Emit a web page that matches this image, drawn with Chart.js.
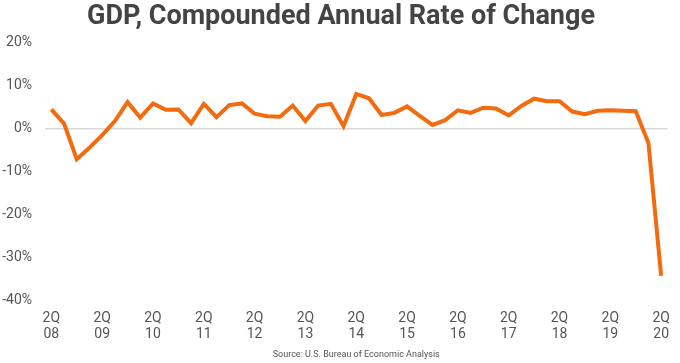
<!DOCTYPE html>
<html>
<head>
<meta charset="utf-8">
<script src="https://cdn.jsdelivr.net/npm/chart.js@4"></script>
<style>
  html, body { margin: 0; padding: 0; background: #fff; }
  #wrap { width: 680px; height: 363px; }
</style>
</head>
<body>
<div id="wrap"><canvas id="gdpChart"></canvas></div>
<script>
// quarters 2Q08 .. 2Q20
const quarters = [
    '2Q08', '3Q08', '4Q08',
    '1Q09', '2Q09', '3Q09', '4Q09',
    '1Q10', '2Q10', '3Q10', '4Q10',
    '1Q11', '2Q11', '3Q11', '4Q11',
    '1Q12', '2Q12', '3Q12', '4Q12',
    '1Q13', '2Q13', '3Q13', '4Q13',
    '1Q14', '2Q14', '3Q14', '4Q14',
    '1Q15', '2Q15', '3Q15', '4Q15',
    '1Q16', '2Q16', '3Q16', '4Q16',
    '1Q17', '2Q17', '3Q17', '4Q17',
    '1Q18', '2Q18', '3Q18', '4Q18',
    '1Q19', '2Q19', '3Q19', '4Q19',
    '1Q20', '2Q20'
];

// annual rate of change, %
const gdpRate = [
    4.4, 1.1, -7.2,
    -4.5, -1.6, 1.7, 6.1,
    2.5, 5.8, 4.3, 4.4,
    1.2, 5.7, 2.6, 5.4,
    5.8, 3.4, 2.8, 2.7,
    5.3, 1.7, 5.3, 5.7,
    0.5, 8.0, 7.0, 3.1,
    3.6, 5.1, 2.9, 0.8,
    1.9, 4.2, 3.6, 4.8,
    4.6, 3.0, 5.2, 6.9,
    6.3, 6.3, 3.9, 3.3,
    4.1, 4.2, 4.1, 4.0,
    -3.4, -34.3
];

const yTicks = [20, 10, 0, -10, -20, -30, -40];

new Chart(document.getElementById('gdpChart'), {
    type: 'line',
    data: {
        labels: quarters,
        datasets: [{
            label: 'GDP',
            data: gdpRate,
            borderColor: '#f26b0f',
            borderWidth: 4,
            pointRadius: 0,
            tension: 0,
            fill: false
        }]
    },
    options: {
        responsive: true,
        maintainAspectRatio: false,
        animation: false,
        layout: { padding: { left: 2, right: 0, top: 0, bottom: 2 } },
        plugins: {
            legend: { display: false },
            tooltip: { enabled: false },
            title: {
                display: true,
                text: 'GDP, Compounded Annual Rate of Change',
                color: '#444',
                font: { family: 'Roboto', size: 27, weight: 'bold', lineHeight: 1.2 },
                padding: { top: 1, bottom: 9 }
            },
            subtitle: {
                display: true,
                position: 'bottom',
                fullSize: false,
                text: 'Source: U.S. Bureau of Economic Analysis',
                color: '#555',
                font: { family: 'Roboto', size: 9 },
                padding: { top: 6, bottom: 1 }
            }
        },
        scales: {
            x: {
                offset: true,
                afterFit: s => { s.height = 43; },
                grid: { display: false, drawTicks: false },
                border: { display: false },
                ticks: {
                    autoSkip: false,
                    maxRotation: 0,
                    color: '#555',
                    font: { family: 'Roboto', size: 14, lineHeight: 1.15 },
                    padding: 10,
                    callback: (v, i) => i % 4 === 0 ? [quarters[i].slice(0, 2), quarters[i].slice(2)] : ''
                }
            },
            y: {
                min: -40,
                max: 20,
                afterFit: s => { s.width = 43; },
                afterBuildTicks: s => { s.ticks = yTicks.map(v => ({ value: v })); },
                grid: {
                    drawTicks: false,
                    color: ctx => ctx.tick && ctx.tick.value === 0 ? '#d9d9d9' : 'rgba(0,0,0,0)',
                    lineWidth: 1.5
                },
                border: { display: false },
                ticks: {
                    color: '#555',
                    font: { family: 'Roboto', size: 14 },
                    padding: 13,
                    callback: v => v + '%'
                }
            },
            // empty spacer on the right so the plot ends where the original does
            yRight: {
                position: 'right',
                afterFit: s => { s.width = 11; },
                grid: { display: false, drawTicks: false },
                border: { display: false },
                ticks: { display: false }
            }
        }
    }
});
</script>
</body>
</html>
